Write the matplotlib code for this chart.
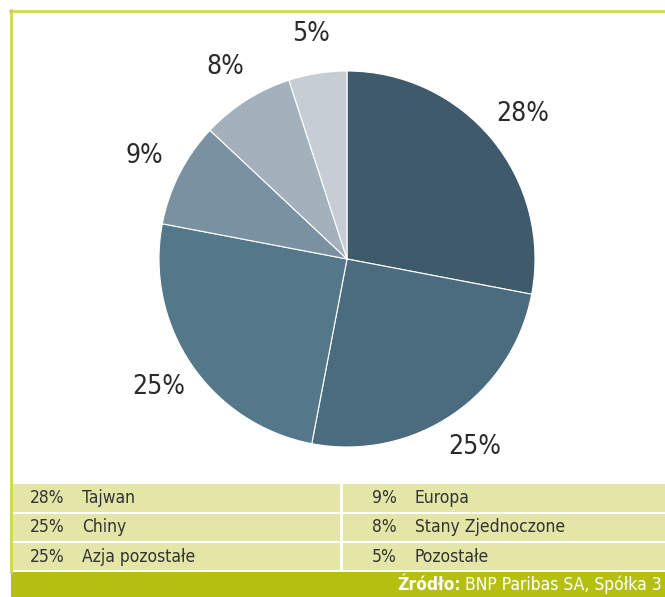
import matplotlib
matplotlib.use("Agg")
import matplotlib.pyplot as plt
from matplotlib.patches import Rectangle
from matplotlib.lines import Line2D

# data
names = ["Tajwan", "Chiny", "Azja pozostałe", "Europa", "Stany Zjednoczone", "Pozostałe"]
shares = [28, 25, 25, 9, 8, 5]
colors = ["#3f5a6b", "#4b6b7e", "#537889", "#7a91a2", "#a3b1bc", "#c5ced5"]
source_bold = "Źródło:"
source_rest = " BNP Paribas SA, Spółka 3"

W, H = 665, 597
fig = plt.figure(figsize=(W / 100, H / 100), dpi=100)
fig.patch.set_facecolor("white")

FONT = "DejaVu Sans"

def fx(px):
    return px / W

def fy(py):
    return 1 - py / H

# pie
cx, cy, r = 347, 259, 188
ax = fig.add_axes([fx(cx - r), fy(cy + r), 2 * r / W, 2 * r / H])
wedges, texts = ax.pie(shares, colors=colors, startangle=90, counterclock=False,
                       labels=[f"{s}%" for s in shares], labeldistance=1.21,
                       wedgeprops=dict(edgecolor="white", linewidth=0.8))
for t in texts:
    t.set_fontsize(19)
    t.set_color("#2a2a2a")
    t.set_fontfamily(FONT)
    t.set_fontweight("light")
    t.set_fontstretch("condensed")
    t.set_ha("center")
    t.set_va("center")
ax.set_xlim(-1, 1)
ax.set_ylim(-1, 1)
ax.set_axis_off()

# green frame
green_line = "#cfd84a"
fig.add_artist(Line2D([fx(11), fx(11)], [fy(10), fy(572)], color=green_line, lw=2))
fig.add_artist(Line2D([fx(10), fx(665)], [fy(11), fy(11)], color=green_line, lw=2))

# legend table
row_col = "#e3e6a6"
rows = [(484, 512), (514, 541), (543, 570)]
for i, (y0, y1) in enumerate(rows):
    fig.add_artist(Rectangle((fx(12), fy(y1)), fx(340 - 12), (y1 - y0) / H,
                             facecolor=row_col, edgecolor="none"))
    fig.add_artist(Rectangle((fx(343), fy(y1)), fx(665 - 343), (y1 - y0) / H,
                             facecolor=row_col, edgecolor="none"))
    ym = fy((y0 + y1) / 2)
    for j, (xp, xn) in enumerate([(30, 82), (372, 415)]):
        k = i + 3 * j
        fig.text(fx(xp), ym, f"{shares[k]}%", fontsize=12.5, color="#333333",
                 family=FONT, stretch="condensed", va="center", ha="left")
        fig.text(fx(xn), ym, names[k], fontsize=12.5, color="#333333",
                 family=FONT, stretch="condensed", va="center", ha="left")

# footer
fig.add_artist(Rectangle((fx(11), 0), fx(665 - 11), (597 - 572) / H,
                         facecolor="#b5bf12", edgecolor="none"))
fm = fy(585)
t_rest = fig.text(fx(662), fm, source_rest, fontsize=12.5, color="white",
                  family=FONT, stretch="condensed", va="center", ha="right")
fig.canvas.draw()
bb = t_rest.get_window_extent()
fig.text(bb.x0 / W, fm, source_bold, fontsize=12.5, color="white", family=FONT,
         stretch="condensed", weight="bold", va="center", ha="right")

fig.savefig("out.png", dpi=100)
